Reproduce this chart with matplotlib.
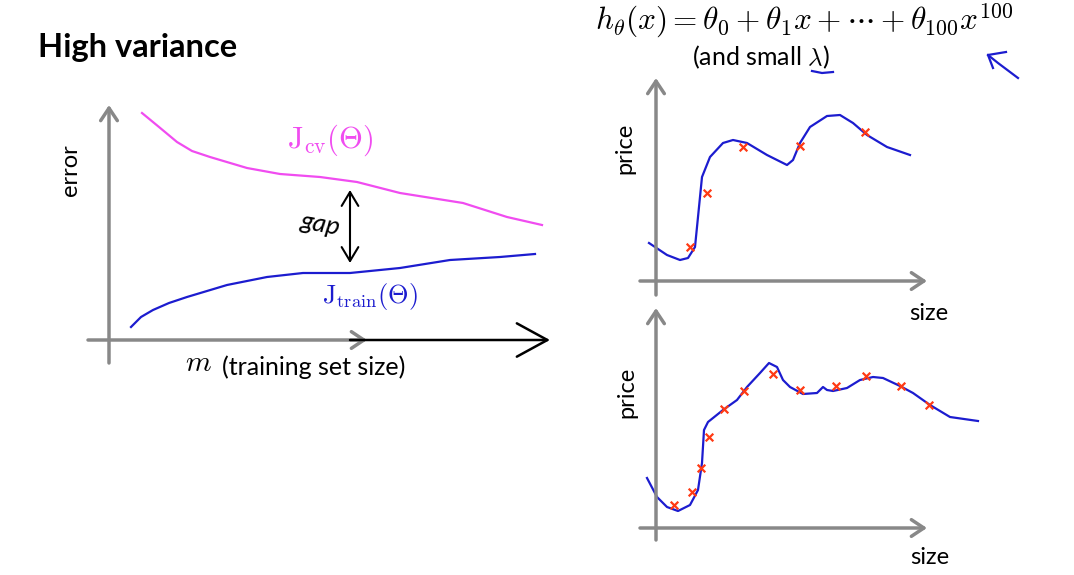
import matplotlib.pyplot as plt

plt.rcParams['font.family'] = ['Lato', 'DejaVu Sans']
plt.rcParams['mathtext.fontset'] = 'cm'

W, H = 1074, 575

# learning curves (left), units: 10 px from the axis origin
m_cv = [3.3, 5.0, 6.8, 8.3, 10.1, 13.8, 17.1, 21.1, 24.8, 29.1, 35.4, 39.8, 43.3]
j_cv = [22.7, 21.3, 19.8, 18.9, 18.3, 17.2, 16.6, 16.3, 15.8, 14.7, 13.7, 12.3, 11.5]
m_train = [2.2, 3.2, 4.4, 6.0, 7.8, 11.8, 15.8, 19.4, 24.1, 29.1, 34.1, 39.1, 42.6]
j_train = [1.3, 2.3, 3.0, 3.7, 4.3, 5.5, 6.3, 6.7, 6.7, 7.2, 8.0, 8.3, 8.6]

# top right: few training examples, overfit curve
fit1_x = [-0.7, 1.1, 2.4, 3.2, 3.9, 4.2, 4.6, 5.4, 6.7, 7.7, 9.1, 11.1, 13.1, 13.7,
          14.4, 15.4, 17.1, 18.4, 19.7, 21.1, 23.1, 25.4]
fit1_y = [3.8, 2.6, 2.1, 2.3, 3.4, 6.4, 10.4, 12.4, 13.8, 14.1, 13.8, 12.6, 11.6, 12.1,
          13.8, 15.4, 16.5, 16.6, 15.8, 14.6, 13.4, 12.6]
pts1_x = [3.4, 5.1, 8.7, 14.4, 20.9]
pts1_y = [3.4, 8.8, 13.4, 13.5, 14.9]

# bottom right: more training examples
fit2_x = [-0.9, 0.1, 1.1, 2.2, 3.4, 4.2, 4.6, 4.8, 5.2, 6.7, 8.1, 9.1, 10.4, 11.3, 12.1,
          12.7, 13.4, 14.7, 16.1, 16.7, 17.1, 17.7, 19.1, 20.4, 21.7, 22.7, 24.4, 25.7,
          27.4, 29.4, 32.2]
fit2_y = [5.0, 3.1, 2.1, 1.7, 2.3, 3.8, 6.5, 9.8, 10.6, 11.8, 12.8, 14.1, 15.5, 16.5, 16.1,
          14.8, 14.1, 13.4, 13.5, 14.1, 13.8, 13.7, 14.0, 14.8, 15.1, 15.0, 14.2, 13.5,
          12.3, 11.1, 10.7]
pts2_x = [1.8, 3.6, 4.5, 5.3, 6.8, 8.8, 11.7, 14.4, 18.0, 21.0, 24.5, 27.3]
pts2_y = [2.3, 3.6, 6.0, 9.1, 11.9, 13.7, 15.4, 13.8, 14.2, 15.2, 14.2, 12.3]

PINK = '#f04cf0'
BLUE = '#1c1ccf'
RED = '#ff3a14'
GRAY = '#888888'


def fx(x):
    return x / W


def fy(y):
    return 1 - y / H


def panel(x0, y0, x1, y1, ox, oy):
    # axes box in pixels (top-left origin), data unit = 10 px from origin (ox, oy)
    ax = fig.add_axes([fx(x0), fy(y1), (x1 - x0) / W, (y1 - y0) / H])
    ax.set_xlim((x0 - ox) / 10, (x1 - ox) / 10)
    ax.set_ylim((oy - y1) / 10, (oy - y0) / 10)
    ax.axis('off')
    return ax


def gray_axes(ax, xa, xb, ya, yb):
    st = dict(arrowstyle='->,head_length=0.45,head_width=0.3', color=GRAY,
              lw=2.5, mutation_scale=20, shrinkA=0, shrinkB=0)
    ax.annotate('', xy=(xb, 0), xytext=(xa, 0), arrowprops=st)
    ax.annotate('', xy=(0, yb), xytext=(0, ya), arrowprops=st)


fig = plt.figure(figsize=(W / 100, H / 100), dpi=100)
fig.patch.set_facecolor('white')

# ---- left: learning curves
ax = panel(80, 95, 565, 375, 109, 340)
gray_axes(ax, -2.1, 25.8, -2.3, 23.5)
ax.annotate('', xy=(44.1, 0), xytext=(24.1, 0),
            arrowprops=dict(arrowstyle='->,head_length=1.1,head_width=0.6', color='black',
                            lw=1.8, mutation_scale=20, shrinkA=0, shrinkB=0))
ax.plot(m_cv, j_cv, color=PINK, lw=1.6)
ax.plot(m_train, j_train, color=BLUE, lw=1.6)
ax.annotate('', xy=(24.1, 15.0), xytext=(24.1, 7.7),
            arrowprops=dict(arrowstyle='<->,head_length=0.5,head_width=0.3', color='black',
                            lw=1.5, mutation_scale=20, shrinkA=0, shrinkB=0))
ax.text(21.2, 11.6, 'gap', fontsize=19, style='italic', ha='center', va='center',
        rotation=-10, color='black')
ax.text(17.8, 20.0, r'$\mathrm{J_{cv}(\Theta)}$', fontsize=22, color=PINK, ha='left', va='center')
ax.text(21.3, 4.3, r'$\mathrm{J_{train}(\Theta)}$', fontsize=19, color=BLUE, ha='left', va='center')

fig.text(fx(38), fy(47), 'High variance', fontsize=23.5, fontweight='bold', ha='left', va='center')
fig.text(fx(70), fy(170), 'error', fontsize=17, rotation=90, ha='center', va='center')
fig.text(fx(198), fy(363), r'$m$', fontsize=21, ha='center', va='center')
fig.text(fx(222), fy(367), '(training set size)', fontsize=18, ha='left', va='center')

# ---- top right
ax1 = panel(630, 70, 945, 300, 656, 281)
gray_axes(ax1, -1.6, 27.1, -1.4, 20.3)
ax1.plot(fit1_x, fit1_y, color=BLUE, lw=1.6)
ax1.scatter(pts1_x, pts1_y, marker='x', color=RED, s=30, lw=1.6, zorder=3)
fig.text(fx(625), fy(148), 'price', fontsize=17, rotation=90, ha='center', va='center')
fig.text(fx(929), fy(313), 'size', fontsize=17, ha='center', va='center')

# ---- bottom right
ax2 = panel(630, 300, 1000, 545, 656, 528)
gray_axes(ax2, -1.6, 27.1, -1.2, 22.0)
ax2.plot(fit2_x, fit2_y, color=BLUE, lw=1.6)
ax2.scatter(pts2_x, pts2_y, marker='x', color=RED, s=30, lw=1.6, zorder=3)
fig.text(fx(627), fy(392), 'price', fontsize=17, rotation=90, ha='center', va='center')
fig.text(fx(930), fy(557), 'size', fontsize=17, ha='center', va='center')

# ---- hypothesis
fig.text(fx(595), fy(21),
         r'$h_\theta(x) = \theta_0 + \theta_1 x + \cdots + \theta_{100} x^{100}$',
         fontsize=22.5, ha='left', va='center')
fig.text(fx(692), fy(57), r'(and small $\lambda$)', fontsize=18, ha='left', va='center')
fig.add_artist(plt.Line2D([fx(812), fx(822), fx(833)], [fy(71), fy(73), fy(72)],
                          color=BLUE, lw=1.6))
fig.add_artist(plt.Line2D([fx(1018), fx(998), fx(988)], [fy(78), fy(63), fy(55)],
                          color=BLUE, lw=1.6))
fig.add_artist(plt.Line2D([fx(993), fx(988), fx(1006)], [fy(68), fy(55), fy(52)],
                          color=BLUE, lw=1.6))

fig.savefig('out.png', dpi=100)
